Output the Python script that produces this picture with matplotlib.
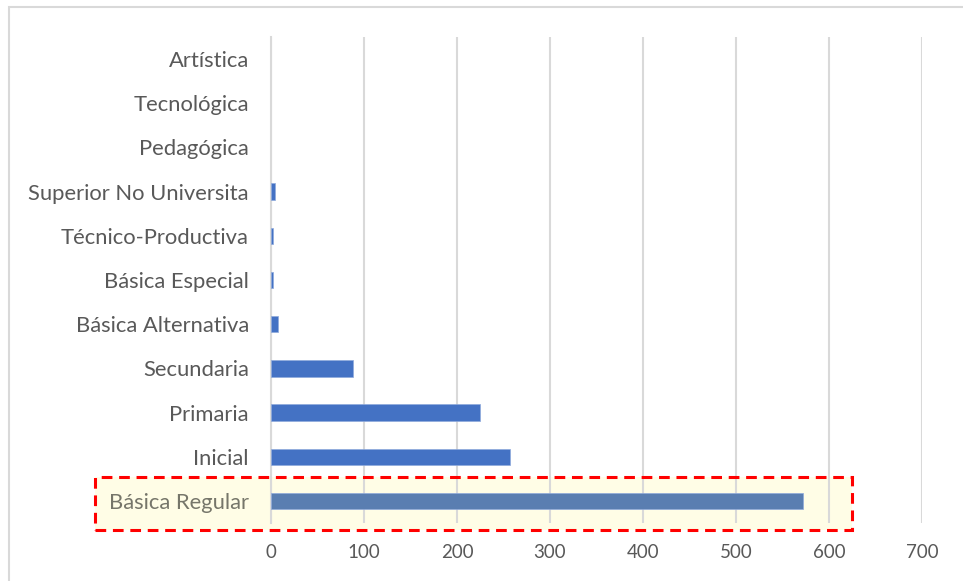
import matplotlib
matplotlib.use("Agg")
import matplotlib.pyplot as plt
from matplotlib.patches import Rectangle

# ---------------------------------------------------------------------------
# Data
# ---------------------------------------------------------------------------
CATEGORIES = [
    "Básica Regular", "Inicial", "Primaria", "Secundaria",
    "Básica Alternativa", "Básica Especial", "Técnico-Productiva",
    "Superior No Universita", "Pedagógica", "Tecnológica", "Artística",
]
VALUES = [572, 257, 225, 88, 8, 2.5, 2.5, 4, 0, 0, 0]
X_TICKS = [0, 100, 200, 300, 400, 500, 600, 700]

W, H = 963, 581
BLUE = "#4472C4"
HIGHLIGHT_BLUE = "#5A7EB1"
GRID = "#D9D9D9"
TEXT = "#595959"

plt.rcParams["font.family"] = ["Lato", "DejaVu Sans"]

fig = plt.figure(figsize=(W / 100, H / 100), dpi=100)
ax = fig.add_axes([271 / W, 1 - 523 / H, (922 - 271) / W, (523 - 37) / H])

# outer chart frame (only left and top edges fall inside the image)
fig.patches.append(Rectangle((9 / W, -0.2), 1.2, 1.2 - 7 / H,
                             transform=fig.transFigure, fill=False,
                             edgecolor=GRID, linewidth=1.5, zorder=0))

# highlighted row background, under grid and bars
box = (95 / W, 1 - 530 / H)
box_w, box_h = (852 - 95) / W, (530 - 477) / H
ax.add_patch(Rectangle(box, box_w, box_h, transform=fig.transFigure,
                       facecolor="#FFFDE6", edgecolor="none",
                       clip_on=False, zorder=0.5))

ypos = list(range(len(CATEGORIES)))
colors = [HIGHLIGHT_BLUE] + [BLUE] * (len(CATEGORIES) - 1)
# thin light outline only on bars that have a length
widths = [0.5 if v > 0 else 0 for v in VALUES]
ax.barh(ypos, VALUES, height=0.37, color=colors, edgecolor="#8FAADC",
        linewidth=widths, zorder=3)

ax.set_xlim(0, 700)
ax.set_ylim(-0.5, len(CATEGORIES) - 0.5)
ax.set_xticks(X_TICKS)
ax.set_yticks(ypos)
ax.set_yticklabels(CATEGORIES)
ax.patch.set_alpha(0)

ax.grid(axis="x", color=GRID, linewidth=1.5, zorder=1)
ax.set_axisbelow(False)
for line in ax.get_xgridlines():
    line.set_zorder(1)
for side in ("top", "right", "bottom"):
    ax.spines[side].set_visible(False)
ax.spines["left"].set_color(GRID)
ax.spines["left"].set_linewidth(1.5)
ax.spines["left"].set_zorder(1)

ax.tick_params(axis="y", length=0, labelsize=15.8, labelcolor=TEXT, pad=16)
ax.tick_params(axis="x", length=0, labelsize=13.5, labelcolor=TEXT, pad=15)
ax.get_yticklabels()[0].set_color("#76766A")

# dashed red frame around the highlighted row
ax.add_patch(Rectangle(box, box_w, box_h, transform=fig.transFigure,
                       fill=False, edgecolor="#FF0000", linewidth=2.2,
                       linestyle=(0, (3.5, 2.2)), clip_on=False, zorder=10))

fig.savefig("out.png", dpi=100)
